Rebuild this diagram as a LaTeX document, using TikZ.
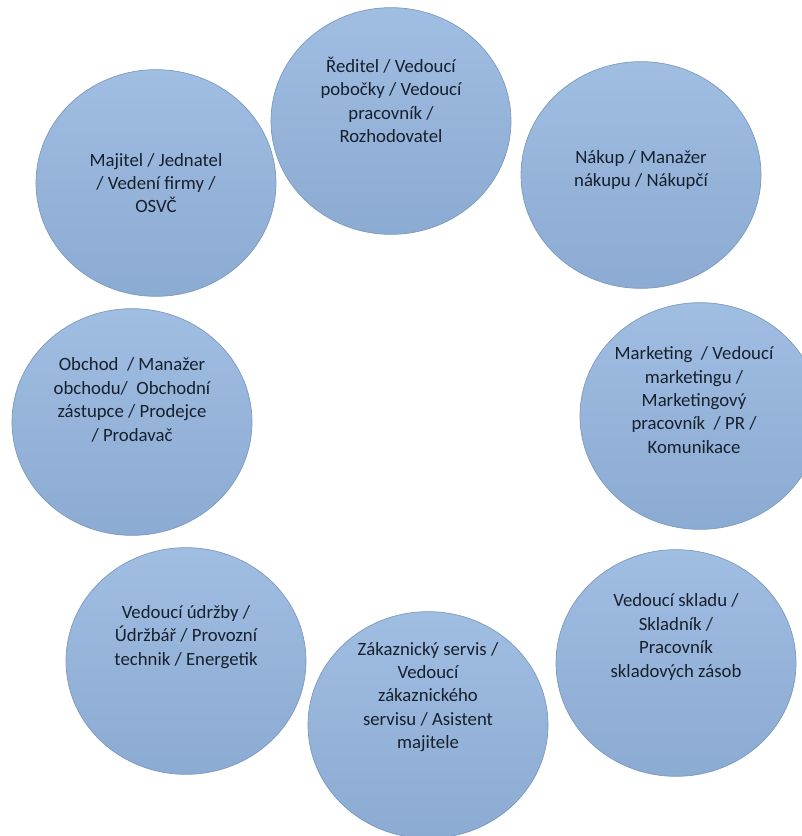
\documentclass[tikz,border=0pt]{standalone}
\usepackage{fontspec}
\setmainfont{Carlito}
\usepackage{tikz}
\usetikzlibrary{shapes.geometric,calc}

\definecolor{disctop}{HTML}{A0BDE2}
\definecolor{discbottom}{HTML}{8CABD2}
\definecolor{discedge}{HTML}{7C99C0}
\definecolor{discink}{HTML}{17202C}

\begin{document}
\begin{tikzpicture}[
  x=0.03cm, y=-0.03cm,
  disc/.style={ellipse, draw=discedge, line width=0.6pt, top color=disctop, bottom color=discbottom,
               minimum width=7.2cm, minimum height=6.8cm, inner sep=0pt},
  lbl/.style={align=center, text=discink, inner sep=0pt, font=\fontsize{16}{20}\selectfont}
]
\useasboundingbox (0,0) rectangle (801,836);

% ring of circles, clockwise from the top
\node[disc] (reditel)   at (391,121) {};
\node[disc] (nakup)     at (641,175) {};
\node[disc] (marketing) at (700,416) {};
\node[disc] (sklad)     at (676,663) {};
\node[disc] (servis)    at (428,725) {};
\node[disc] (udrzba)    at (186,661) {};
\node[disc] (obchod)    at (132,422) {};
\node[disc] (majitel)   at (156,183) {};

% texts, set a little above the centres
\node[lbl] (reditelT)   at ($(reditel)+(0,-21)$)   {Ředitel / Vedoucí\\pobočky / Vedoucí\\pracovník /\\Rozhodovatel};
\node[lbl] (nakupT)     at ($(nakup)+(0,-5)$)      {Nákup / Manažer\\nákupu / Nákupčí};
\node[lbl] (marketingT) at ($(marketing)+(-6,-16)$) {Marketing \ / Vedoucí\\marketingu /\\Marketingový\\pracovník \ / PR /\\Komunikace};
\node[lbl] (skladT)     at ($(sklad)+(0,-26)$)     {Vedoucí skladu /\\Skladník /\\Pracovník\\skladových zásob};
\node[lbl] (servisT)    at ($(servis)+(0,-28)$)    {Zákaznický servis /\\Vedoucí\\zákaznického\\servisu / Asistent\\majitele};
\node[lbl] (udrzbaT)    at ($(udrzba)+(0,-24)$)    {Vedoucí údržby /\\Údržbář / Provozní\\technik / Energetik};
\node[lbl] (obchodT)    at ($(obchod)+(0,-22)$)    {Obchod \ / Manažer\\obchodu/ \ Obchodní\\zástupce / Prodejce\\/ Prodavač};
\node[lbl] (majitelT)   at ($(majitel)+(0,0)$)     {Majitel / Jednatel\\/ Vedení firmy /\\OSVČ};
\end{tikzpicture}
\end{document}
